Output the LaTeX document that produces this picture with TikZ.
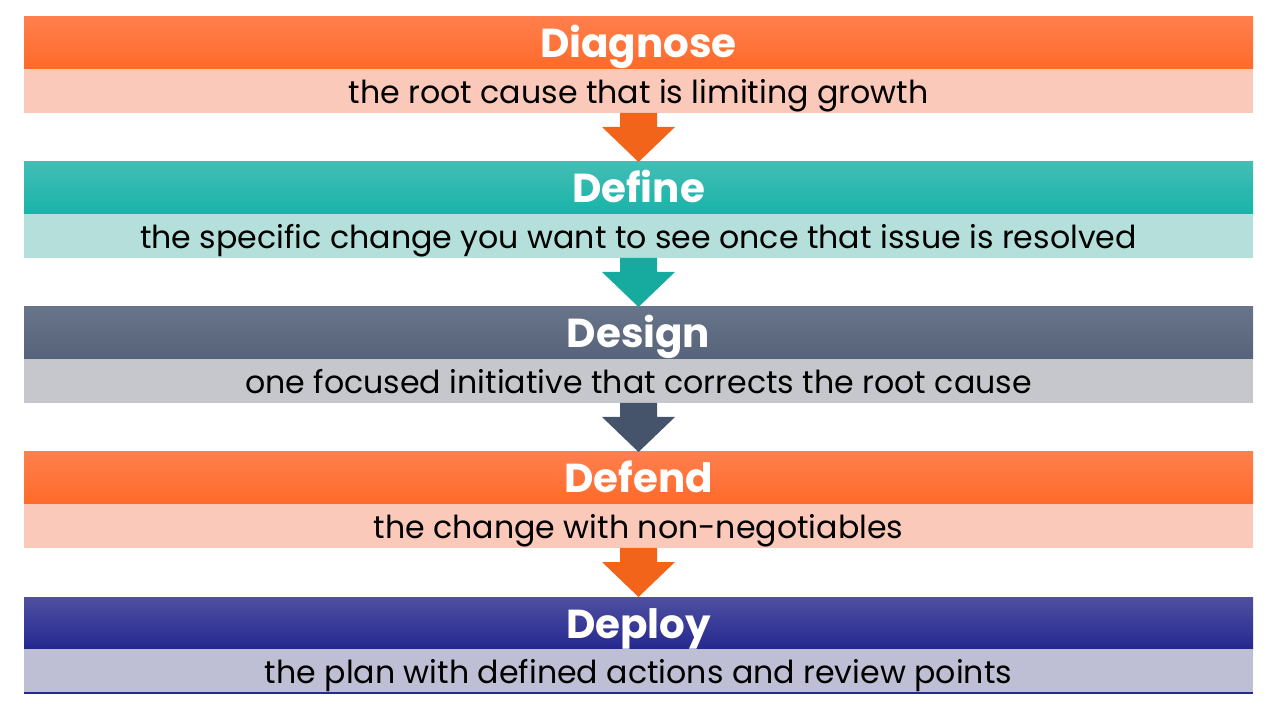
\documentclass[tikz,border=0pt]{standalone}
\usepackage{fontspec}
\setmainfont{Poppins}
\usetikzlibrary{positioning}

\definecolor{orangeTop}{HTML}{FF7F4E}
\definecolor{orangeBot}{HTML}{FF6A28}
\definecolor{orangeSub}{HTML}{FBC9B9}
\definecolor{orangeArr}{HTML}{F26419}
\definecolor{tealTop}{HTML}{44BDB5}
\definecolor{tealBot}{HTML}{17B4A9}
\definecolor{tealSub}{HTML}{B4DFDB}
\definecolor{tealArr}{HTML}{17ABA0}
\definecolor{slateTop}{HTML}{687489}
\definecolor{slateBot}{HTML}{56637A}
\definecolor{slateSub}{HTML}{C5C7CC}
\definecolor{slateArr}{HTML}{45546B}
\definecolor{navyTop}{HTML}{4F50A1}
\definecolor{navyBot}{HTML}{24288F}
\definecolor{navySub}{HTML}{BEBFD5}

% block arrow from a sub bar down to the next head bar
\newcommand{\downarrowblock}[3]{%
  \fill[#3] ([xshift=-1.85mm]#1.south) -- ([xshift=-1.85mm,yshift=-1.4mm]#1.south)
    -- ([xshift=-3.65mm,yshift=-1.4mm]#1.south) -- (#2.north)
    -- ([xshift=3.65mm,yshift=-1.4mm]#1.south) -- ([xshift=1.85mm,yshift=-1.4mm]#1.south)
    -- ([xshift=1.85mm]#1.south) -- cycle;}

\begin{document}
\begin{tikzpicture}[
    bar/.style = {shape = rectangle, minimum width = 12.29cm, inner sep = 0pt, outer sep = 0pt, text depth = 0pt},
    head/.style = {bar, minimum height = 0.52cm, text height = 0.3cm, text = white, font = \fontsize{11.5}{12}\selectfont\bfseries},
    sub/.style = {bar, minimum height = 0.44cm, text height = 0.25cm, text = black, font = \fontsize{9}{10}\selectfont}]
    \useasboundingbox (0,0) rectangle (12.8,-7.2);

    \node[head, top color = orangeTop, bottom color = orangeBot] (h1) at (6.385,-0.43) {Diagnose};
    \node[sub, fill = orangeSub, below = 0pt of h1] (s1) {the root cause that is limiting growth};

    \node[head, top color = tealTop, bottom color = tealBot] (h2) at (6.385,-1.88) {Define};
    \node[sub, fill = tealSub, below = 0pt of h2] (s2) {the specific change you want to see once that issue is resolved};

    \node[head, top color = slateTop, bottom color = slateBot] (h3) at (6.385,-3.33) {Design};
    \node[sub, fill = slateSub, below = 0pt of h3] (s3) {one focused initiative that corrects the root cause};

    \node[head, top color = orangeTop, bottom color = orangeBot] (h4) at (6.385,-4.78) {Defend};
    \node[sub, fill = orangeSub, below = 0pt of h4] (s4) {the change with non-negotiables};

    \node[head, top color = navyTop, bottom color = navyBot] (h5) at (6.385,-6.23) {Deploy};
    \node[sub, fill = navySub, below = 0pt of h5] (s5) {the plan with defined actions and review points};
    \draw[navyBot, line width = 0.3pt] (s5.south west) -- (s5.south east);

    \downarrowblock{s1}{h2}{orangeArr}
    \downarrowblock{s2}{h3}{tealArr}
    \downarrowblock{s3}{h4}{slateArr}
    \downarrowblock{s4}{h5}{orangeArr}
\end{tikzpicture}
\end{document}
